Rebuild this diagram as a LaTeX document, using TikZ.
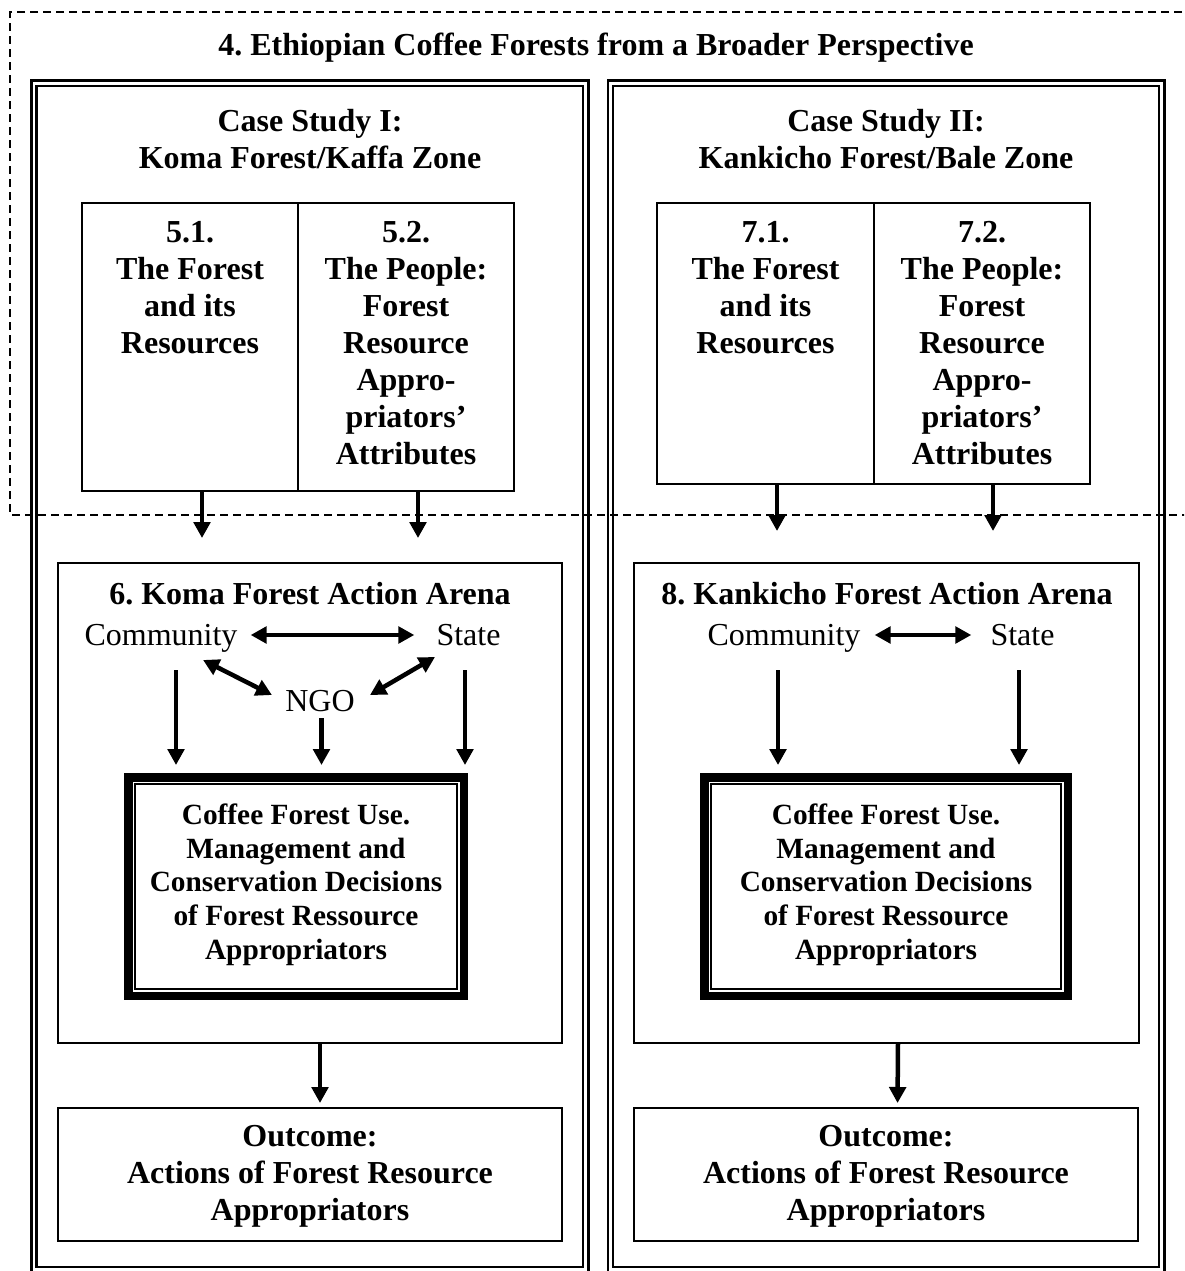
\documentclass[tikz,border=0pt]{standalone}
\usepackage{fontspec}
\setmainfont{Liberation Serif}
\usetikzlibrary{arrows.meta,calc}
\frenchspacing
\begin{document}
\begin{tikzpicture}[x=1pt,y=-1pt,
  box/.style={draw, line width=1.7pt, inner sep=0pt, outer sep=0pt},
  decbox/.style={draw, line width=8.5pt, inner sep=0pt},
  hd/.style={font=\fontsize{32}{37}\selectfont\bfseries\frenchspacing, align=center, inner sep=0pt},
  rm/.style={font=\fontsize{32}{37}\selectfont, inner sep=0pt, text height=22pt, text depth=7pt},
  sm/.style={font=\fontsize{29.33}{33.7}\selectfont\bfseries\frenchspacing, align=center, inner sep=0pt},
  tip/.tip={Triangle[length=16pt,width=16.5pt]},
  arr/.style={line width=4.5pt, -tip},
  dbl/.style={line width=4.5pt, tip-tip},
  outerframe/.style={line width=2.6pt},
  innerframe/.style={line width=2.2pt},
  dashframe/.style={line width=2.1pt, dash pattern=on 8pt off 5pt}
]
\clip (0,0) rectangle (1184,1271);
\fill[white] (0,0) rectangle (1184,1271);

% chapter 4 band
\draw[dashframe] (1195,12) -- (10.3,12) -- (10.3,515.3) -- (1195,515.3);
\node[hd] (title) at (596,48) {4. Ethiopian Coffee Forests from a Broader Perspective};

% case study frames
\draw[outerframe] (31.3,80.7) rectangle (588.7,1273.5);
\draw[innerframe] (36.5,86.2) rectangle (582.8,1266.7);
\draw[outerframe] (608,80.7) rectangle (1164.7,1273.5);
\draw[innerframe] (613,86.2) rectangle (1159.2,1266.7);

\node[hd] (caseL) at (310,139.5) {Case Study I:\\Koma Forest/Kaffa Zone};
\node[hd] (caseR) at (886,139.5) {Case Study II:\\Kankicho Forest/Bale Zone};

% ---------------- Case study I ----------------
\node[box, minimum width=216pt, minimum height=288pt] (b51) at (190,347) {};
\node[box, minimum width=216pt, minimum height=288pt] (b52) at (406,347) {};
\node[hd, anchor=north] (t51) at ([yshift=-18.5pt]b51.north) {5.1.\\The Forest\\and its\\Resources};
\node[hd, anchor=north] (t52) at ([yshift=-18.5pt]b52.north) {5.2.\\The People:\\Forest\\Resource\\Appro-\\priators'\\Attributes};

\node[box, minimum width=504pt, minimum height=480pt] (arL) at (310,803) {};
\node[hd] (arLt) at (310,594) {6. Koma Forest Action Arena};
\node[rm] (comL) at (161,637.5) {Community};
\node[rm] (stL) at (468.5,637.5) {State};
\node[rm] (ngo) at (320,704) {NGO};

\node[decbox, minimum width=335.5pt, minimum height=218.5pt] (decL) at (296,886.5) {};
\draw[line width=1.4pt] ([shift={(11,11)}]decL.north west) rectangle ([shift={(-11,-11)}]decL.south east);
\node[sm] (decLt) at (296,884.7) {Coffee Forest Use.\\Management and\\Conservation Decisions\\of Forest Ressource\\Appropriators};

\node[box, minimum width=504pt, minimum height=133pt] (outL) at (310,1174.5) {};
\node[hd] (outLt) at (310,1176) {Outcome:\\Actions of Forest Resource\\Appropriators};

\draw[arr] ([xshift=12pt]b51.south) -- ++(0,47);
\draw[arr] ([xshift=12pt]b52.south) -- ++(0,47);
\draw[dbl, shorten <=13pt, shorten >=22pt] ([yshift=2.5pt]comL.east) -- ([yshift=2.5pt]stL.west);
\coordinate (dL1) at (203,660);
\coordinate (dL2) at (272,695);
\coordinate (dL3) at (435,657);
\coordinate (dL4) at (370,695);
\draw[dbl] (dL1) -- (dL2);
\draw[dbl] (dL3) -- (dL4);
\coordinate (vL1) at (176,670);
\coordinate (vL2) at (321.5,718);
\coordinate (vL3) at (465,670);
\draw[arr, shorten >=8pt] (vL1) -- (vL1 |- decL.north);
\draw[arr, shorten >=8pt] (vL2) -- (vL2 |- decL.north);
\draw[arr, shorten >=8pt] (vL3) -- (vL3 |- decL.north);
\draw[arr, shorten >=5pt] ([xshift=10pt]arL.south) -- ([xshift=10pt]outL.north);

% ---------------- Case study II ----------------
\node[box, minimum width=217pt, minimum height=281pt] (b71) at (765.5,343.5) {};
\node[box, minimum width=216pt, minimum height=281pt] (b72) at (982,343.5) {};
\node[hd, anchor=north] (t71) at ([yshift=-18.5pt]b71.north) {7.1.\\The Forest\\and its\\Resources};
\node[hd, anchor=north] (t72) at ([yshift=-18.5pt]b72.north) {7.2.\\The People:\\Forest\\Resource\\Appro-\\priators'\\Attributes};

\node[box, minimum width=505pt, minimum height=480pt] (arR) at (886.5,803) {};
\node[hd] (arRt) at (887,594) {8. Kankicho Forest Action Arena};
\node[rm] (comR) at (784,637.5) {Community};
\node[rm] (stR) at (1022.5,637.5) {State};

\node[decbox, minimum width=363.5pt, minimum height=218.5pt] (decR) at (886,886.5) {};
\draw[line width=1.4pt] ([shift={(11,11)}]decR.north west) rectangle ([shift={(-11,-11)}]decR.south east);
\node[sm] (decRt) at (886,884.7) {Coffee Forest Use.\\Management and\\Conservation Decisions\\of Forest Ressource\\Appropriators};

\node[box, minimum width=504pt, minimum height=133pt] (outR) at (886,1174.5) {};
\node[hd] (outRt) at (886,1176) {Outcome:\\Actions of Forest Resource\\Appropriators};

\draw[arr] ([xshift=11.5pt]b71.south) -- ++(0,47);
\draw[arr] ([xshift=11pt]b72.south) -- ++(0,47);
\draw[dbl, shorten <=14pt, shorten >=19pt] ([yshift=2.5pt]comR.east) -- ([yshift=2.5pt]stR.west);
\coordinate (vR1) at (778,670);
\coordinate (vR2) at (1019,670);
\draw[arr, shorten >=8pt] (vR1) -- (vR1 |- decR.north);
\draw[arr, shorten >=8pt] (vR2) -- (vR2 |- decR.north);
\draw[arr, shorten >=5pt] ([xshift=11.5pt]arR.south) -- ([xshift=11.5pt]outR.north);
\end{tikzpicture}
\end{document}
